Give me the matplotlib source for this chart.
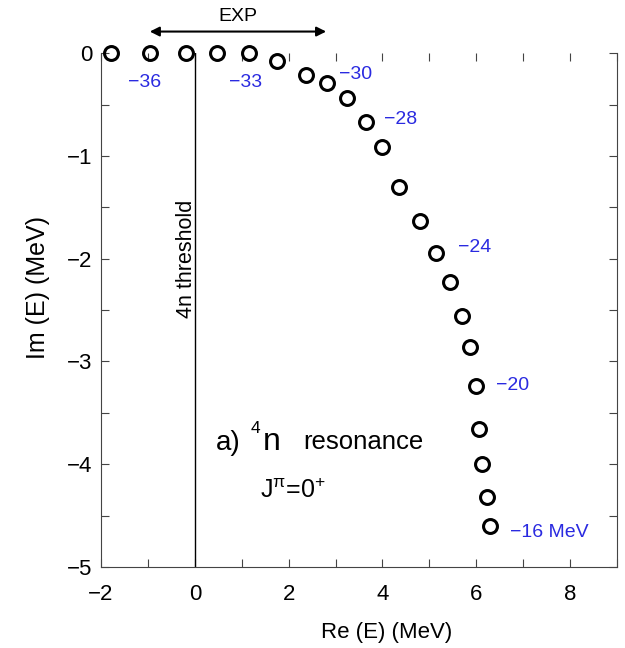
import matplotlib
matplotlib.use("Agg")
import matplotlib.pyplot as plt

plt.rcParams['font.family'] = ['Liberation Sans', 'DejaVu Sans']
plt.rcParams['mathtext.fontset'] = 'custom'
plt.rcParams['mathtext.rm'] = 'Liberation Sans'
plt.rcParams['mathtext.it'] = 'Liberation Sans'

# pole trajectory, strength V from -37 to -16 MeV
re_e = [-1.79, -0.96, -0.19, 0.47, 1.15, 1.76, 2.36, 2.82, 3.25, 3.64, 4.00,
        4.36, 4.81, 5.15, 5.45, 5.70, 5.86, 6.00, 6.05, 6.12, 6.23, 6.29]
im_e = [0.0, 0.0, 0.0, 0.0, 0.0, -0.08, -0.21, -0.29, -0.44, -0.67, -0.91,
        -1.30, -1.63, -1.94, -2.23, -2.56, -2.86, -3.24, -3.66, -4.00, -4.32, -4.60]

lab_text = ['\u221236', '\u221233', '\u221230', '\u221228', '\u221224', '\u221220', '\u221216 MeV']
lab_x = [-1.43, 0.72, 3.07, 4.04, 5.6, 6.43, 6.72]
lab_y = [-0.29, -0.29, -0.21, -0.65, -1.89, -3.23, -4.66]

exp_range = (-0.96, 2.8)

fig = plt.figure(figsize=(6.25, 6.48), dpi=100)
ax = fig.add_axes([0.1616, 0.125, 0.8256, 0.793])

ax.plot(re_e, im_e, 'o', mfc='none', mec='black', ms=10, mew=2.2, clip_on=False, zorder=5)
ax.axvline(0, color='black', lw=1)

for t, x, y in zip(lab_text, lab_x, lab_y):
    ax.text(x, y, t, color='#2a2ae0', fontsize=14, va='center')

ax.annotate('', xy=(exp_range[0], 0.21), xytext=(exp_range[1], 0.21),
            arrowprops=dict(arrowstyle='<|-|>', color='black', lw=1.5,
                            mutation_scale=14, shrinkA=0, shrinkB=0),
            annotation_clip=False)
ax.text(sum(exp_range) / 2, 0.36, 'EXP', ha='center', va='center', fontsize=14)

ax.text(-0.17, -2.0, '4n threshold', rotation=90, ha='center', va='center', fontsize=15.5)
ax.text(0.45, -3.79, 'a)', fontsize=20, va='center')
ax.text(1.19, -3.65, '4', fontsize=12.5, va='center')
ax.text(1.46, -3.78, 'n', fontsize=23, va='center')
ax.text(2.32, -3.78, 'resonance', fontsize=18.5, va='center')
ax.text(1.38, -4.26, r'J$^{\pi}$=0$^{+}$', fontsize=18, va='center')

ax.set_xlim(-2, 9)
ax.set_ylim(-5, 0)
ax.set_xticks([-2, 0, 2, 4, 6, 8])
ax.set_xticks(range(-2, 10), minor=True)
ax.set_yticks([0, -1, -2, -3, -4, -5])
ax.set_yticks([-0.5 * i for i in range(11)], minor=True)
ax.set_yticklabels(['0', '\u22121', '\u22122', '\u22123', '\u22124', '\u22125'])
ax.set_xticklabels(['\u22122', '0', '2', '4', '6', '8'])
ax.tick_params(which='both', direction='in', top=True, right=True, labelsize=16,
               length=6, width=0.8, color='#444444')
ax.tick_params(axis='x', pad=12)
ax.tick_params(axis='y', pad=6)
ax.spines['top'].set_visible(False)
for s in ['left', 'right', 'bottom']:
    ax.spines[s].set_color('#444444')

ax.set_xlabel('Re (E) (MeV)', fontsize=16)
ax.set_ylabel('Im (E) (MeV)', fontsize=18)
ax.xaxis.set_label_coords(0.554, -0.107)
ax.yaxis.set_label_coords(-0.099, 0.543)

fig.savefig('out.png', dpi=100)
